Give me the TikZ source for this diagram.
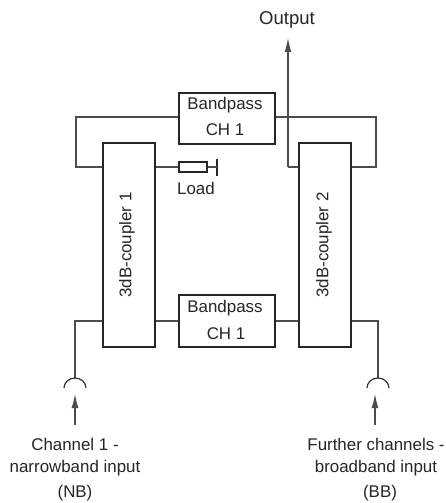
\documentclass[tikz,border=0pt]{standalone}
\usepackage{fontspec}
\setmainfont{Liberation Sans}
\usetikzlibrary{arrows.meta}
\tikzset{
  x=1pt,y=-1pt,
  blockbox/.style={draw=black!85,line width=1.8pt,inner sep=0pt,anchor=north west},
  wire/.style={draw=black!70,line width=1.2pt},
  flow/.style={wire,-{Latex[length=14pt,width=7pt]}},
  lbl/.style={font=\fontsize{16.9}{18}\selectfont,text=black!85,inner sep=0pt},
}
\begin{document}
\begin{tikzpicture}
\useasboundingbox (0,0) rectangle (446,503);
\fill[white] (0,0) rectangle (446,503);
\node[blockbox,minimum width=96pt,minimum height=51pt] (bpt) at (178,92) {};
\node[blockbox,minimum width=96pt,minimum height=52pt] (bpb) at (178,294) {};
\node[blockbox,minimum width=52pt,minimum height=204pt] (cpa) at (102,142) {};
\node[blockbox,minimum width=52pt,minimum height=204pt] (cpb) at (298,142) {};
\node[lbl] at (225,105) {Bandpass};
\node[lbl] at (225,130) {CH 1};
\node[lbl] at (225,308) {Bandpass};
\node[lbl] at (226,334) {CH 1};
\node[lbl,rotate=90] at (127,245) {3dB-coupler 1};
\node[lbl,rotate=90] at (324,245) {3dB-coupler 2};
\node[lbl,font=\fontsize{18.5}{20}\selectfont] (out) at (287,20) {Output};
\node[lbl,anchor=west] (loadt) at (177,188) {Load};
\node[draw=black!85,line width=1.5pt,inner sep=0pt,minimum width=28pt,minimum height=10pt,anchor=west] (load) at (178,167) {};
\coordinate (bar) at (217,167);
\draw[black!85,line width=1.8pt] (217,159) -- (217,176);
\draw[wire] (load.east) -- (bar);
\draw[wire] (cpa.east |- load) -- (load.west);
\coordinate (tl) at (76,117);
\coordinate (tm) at (76,167);
\coordinate (tr) at (376,117);
\coordinate (trb) at (376,167);
\draw[wire] (bpt.west |- tl) -- (tl) -- (tm) -- (cpa.west |- tm);
\draw[wire] (bpt.east |- tr) -- (tr) -- (trb) -- (cpb.east |- trb);
\coordinate (oc) at (288,167);
\coordinate (oe) at (288,38);
\draw[wire] (cpb.west |- oc) -- (oc);
\draw[flow] (oc) -- (oe);
\draw[wire] (cpa.east |- 0,321) -- (bpb.west |- 0,321);
\draw[wire] (bpb.east |- 0,321) -- (cpb.west |- 0,321);
\coordinate (ja) at (75,378);
\coordinate (jb) at (378,378);
\draw[wire] (cpa.west |- 0,321) -- (75,321) -- (ja);
\draw[wire] (cpb.east |- 0,321) -- (378,321) -- (jb);
\draw[draw=black!80,line width=1.2pt] (64,388) arc[start angle=180,end angle=0,x radius=11pt,y radius=10pt];
\draw[draw=black!80,line width=1.2pt] (367,388) arc[start angle=180,end angle=0,x radius=11pt,y radius=10pt];
\coordinate (aa) at (75,425);
\coordinate (ab) at (75,394);
\coordinate (ba) at (375,425);
\coordinate (bb) at (375,394);
\draw[flow] (aa) -- (ab);
\draw[flow] (ba) -- (bb);
\node[lbl] at (75,444) {Channel 1 -};
\node[lbl] at (75,468) {narrowband input};
\node[lbl] at (75,493) {(NB)};
\node[lbl] at (376,444) {Further channels -};
\node[lbl] at (376,468) {broadband input};
\node[lbl] at (380,493) {(BB)};
\end{tikzpicture}
\end{document}
